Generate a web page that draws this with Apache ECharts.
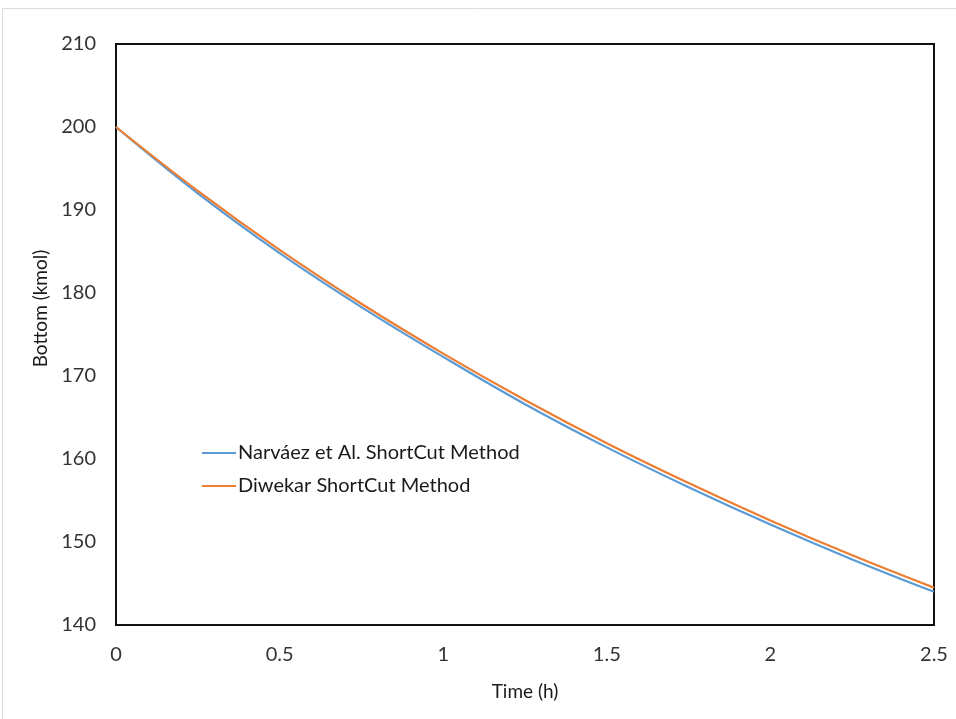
<!DOCTYPE html>
<html>
<head>
<meta charset="utf-8">
<script src="https://cdn.jsdelivr.net/npm/echarts@6/dist/echarts.min.js"></script>
<style>
  html, body { margin: 0; padding: 0; background: #fff; }
  #chart { width: 956px; height: 719px; }
</style>
</head>
<body>
<div id="chart"></div>
<script>
// time (h)
var times = [0, 0.25, 0.5, 0.75, 1, 1.25, 1.5, 1.75, 2, 2.25, 2.5];
// Bottom (kmol)
var narvaez = [200, 192.0, 184.8, 178.3, 172.3, 166.6, 161.4, 156.6, 152.1, 147.9, 144.0];
var diwekar = [200, 192.3, 185.2, 178.7, 172.7, 167.1, 161.9, 157.1, 152.6, 148.4, 144.5];
var xTicks = [0, 0.5, 1, 1.5, 2, 2.5];
var yTicks = [140, 150, 160, 170, 180, 190, 200, 210];

function pairs(ys) {
    var out = [];
    for (var i = 0; i < times.length; i++) out.push([times[i], ys[i]]);
    return out;
}

var font = 'Lato, "Open Sans", sans-serif';
var myChart = echarts.init(document.getElementById('chart'));
var option = {
    animation: false,
    textStyle: { fontFamily: font },
    graphic: [{
        type: 'rect',
        shape: { x: 2.5, y: 8.5, width: 960, height: 720 },
        style: { fill: 'none', stroke: '#dcdcdc', lineWidth: 1 },
        silent: true
    }],
    grid: {
        left: 116, right: 22, top: 44, bottom: 94,
        show: true, borderColor: '#111', borderWidth: 2
    },
    legend: {
        orient: 'vertical',
        left: 197, top: 438,
        icon: 'rect',
        itemWidth: 34, itemHeight: 2, itemGap: 13,
        textStyle: { fontSize: 20, color: '#1a1a1a', fontFamily: font, padding: [0, 0, 0, -3] },
        data: ['Narváez et Al. ShortCut Method', 'Diwekar ShortCut Method']
    },
    xAxis: {
        type: 'value',
        min: xTicks[0], max: xTicks[xTicks.length - 1], interval: 0.5,
        name: 'Time (h)', nameLocation: 'middle', nameGap: 57,
        nameTextStyle: { fontSize: 19, color: '#1a1a1a' },
        axisLine: { lineStyle: { color: '#111', width: 2 } },
        axisTick: { show: false },
        splitLine: { show: false },
        axisLabel: { fontSize: 20, color: '#333', margin: 20 }
    },
    yAxis: {
        type: 'value',
        min: yTicks[0], max: yTicks[yTicks.length - 1], interval: 10,
        name: 'Bottom (kmol)', nameLocation: 'middle', nameGap: 66,
        nameTextStyle: { fontSize: 19, color: '#1a1a1a', padding: [0, 0, 0, 52] },
        axisLine: { lineStyle: { color: '#111', width: 2 } },
        axisTick: { show: false },
        splitLine: { show: false },
        axisLabel: { fontSize: 20, color: '#333', margin: 20 }
    },
    series: [{
        name: 'Narváez et Al. ShortCut Method',
        type: 'line',
        data: pairs(narvaez),
        smooth: 0.4,
        symbol: 'none',
        lineStyle: { color: '#5B9BD5', width: 2.2 },
        itemStyle: { color: '#5B9BD5' }
    }, {
        name: 'Diwekar ShortCut Method',
        type: 'line',
        data: pairs(diwekar),
        smooth: 0.4,
        symbol: 'none',
        lineStyle: { color: '#ED7D31', width: 2.2 },
        itemStyle: { color: '#ED7D31' }
    }]
};
myChart.setOption(option);
</script>
</body>
</html>
